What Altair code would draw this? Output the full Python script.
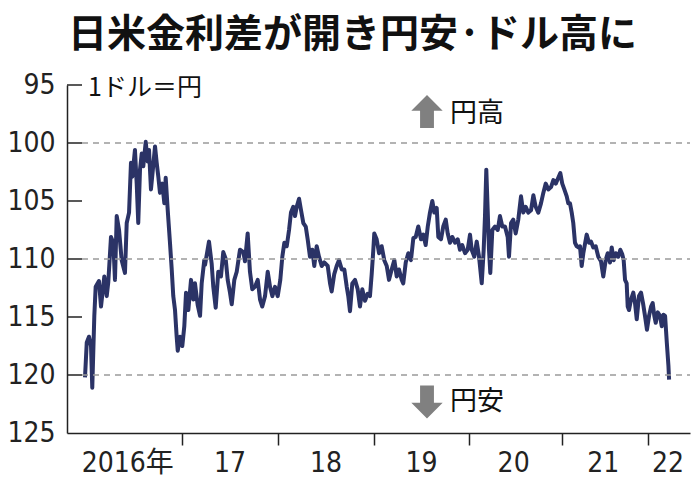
import altair as alt
import pandas as pd

TITLE = "日米金利差が開き円安·ドル高に"
UNIT = "1ドル＝円"
UP_LABEL = "円高"
DOWN_LABEL = "円安"

# (fraction of year, yen per dollar)
y2016 = [(0.000, 120.2), (0.018, 117.2), (0.041, 116.7), (0.062, 117.5), (0.075, 121.1),
         (0.096, 114.9), (0.110, 112.4), (0.144, 111.9), (0.165, 114.1), (0.199, 111.5),
         (0.224, 113.2), (0.240, 112.0), (0.268, 108.1), (0.292, 108.6), (0.309, 111.8),
         (0.327, 106.3), (0.351, 107.5), (0.378, 110.1), (0.412, 111.2), (0.430, 106.9),
         (0.454, 106.0), (0.474, 101.7), (0.488, 102.9), (0.515, 100.6), (0.533, 103.5),
         (0.549, 106.9), (0.567, 102.3), (0.585, 100.9), (0.601, 102.0), (0.626, 99.9),
         (0.646, 101.6), (0.660, 100.6), (0.680, 104.0), (0.704, 101.9), (0.722, 100.3),
         (0.739, 101.7), (0.756, 102.9), (0.773, 104.3), (0.797, 103.5), (0.818, 105.2),
         (0.832, 103.0), (0.853, 105.8), (0.876, 108.6), (0.894, 110.9), (0.910, 113.2),
         (0.928, 114.4), (0.945, 116.7), (0.956, 117.9), (0.979, 116.7)]
y2017 = [(0.003, 117.5), (0.024, 115.8), (0.042, 112.9), (0.066, 114.4), (0.094, 111.8),
         (0.118, 113.5), (0.135, 112.1), (0.164, 114.0), (0.188, 114.9), (0.205, 112.1),
         (0.232, 110.1), (0.240, 110.5), (0.281, 108.5), (0.309, 110.4), (0.326, 112.4),
         (0.351, 114.2), (0.378, 111.1), (0.406, 111.5), (0.430, 109.4), (0.455, 110.0),
         (0.476, 111.8), (0.500, 112.9), (0.518, 113.9), (0.545, 111.8), (0.570, 111.1),
         (0.604, 109.2), (0.639, 109.4), (0.656, 110.2), (0.684, 107.8), (0.708, 111.1),
         (0.732, 112.6), (0.760, 112.4), (0.789, 111.8), (0.813, 113.5), (0.836, 114.1),
         (0.865, 113.2), (0.893, 111.1), (0.917, 112.4), (0.941, 113.2), (0.969, 112.4),
         (0.997, 113.2)]
y2018 = [(0.024, 111.8), (0.045, 109.8), (0.066, 108.6), (0.091, 108.9), (0.115, 107.5),
         (0.135, 106.0), (0.159, 105.5), (0.177, 106.3), (0.195, 105.5), (0.219, 104.8),
         (0.240, 105.8), (0.264, 106.9), (0.289, 107.2), (0.309, 108.3), (0.333, 109.8),
         (0.357, 109.2), (0.378, 110.6), (0.403, 108.9), (0.427, 109.8), (0.455, 110.6),
         (0.482, 110.3), (0.518, 110.6), (0.542, 112.1), (0.559, 112.8), (0.586, 111.3),
         (0.611, 110.6), (0.635, 110.1), (0.664, 110.9), (0.691, 110.9), (0.716, 112.4),
         (0.732, 113.2), (0.750, 114.5), (0.774, 112.1), (0.802, 111.8), (0.830, 112.6),
         (0.854, 114.1), (0.878, 112.6), (0.906, 113.6), (0.934, 113.0), (0.958, 113.2),
         (0.976, 111.3), (0.993, 109.2)]
y2019 = [(0.003, 107.8), (0.028, 108.3), (0.053, 109.5), (0.081, 108.9), (0.108, 110.1),
         (0.134, 110.6), (0.158, 111.8), (0.186, 110.9), (0.214, 110.1), (0.239, 111.5),
         (0.263, 110.9), (0.292, 111.8), (0.308, 112.1), (0.334, 110.3), (0.361, 109.5),
         (0.389, 110.1), (0.414, 108.2), (0.439, 108.1), (0.466, 107.2), (0.495, 108.3),
         (0.519, 107.9), (0.544, 108.8), (0.566, 107.2), (0.589, 106.0), (0.614, 105.0),
         (0.635, 106.0), (0.660, 105.6), (0.677, 108.1), (0.705, 108.3), (0.729, 107.2),
         (0.755, 106.6), (0.776, 107.8), (0.800, 108.6), (0.824, 108.1), (0.853, 108.6),
         (0.881, 108.3), (0.905, 109.2), (0.929, 108.8), (0.958, 109.5), (0.986, 109.2)]
y2020 = [(0.011, 107.9), (0.029, 109.2), (0.057, 109.8), (0.083, 108.5), (0.108, 109.8),
         (0.137, 112.1), (0.158, 109.2), (0.172, 106.3), (0.186, 102.3), (0.201, 105.8),
         (0.215, 109.2), (0.229, 111.2), (0.251, 107.5), (0.280, 107.2), (0.309, 107.5),
         (0.333, 106.3), (0.358, 107.2), (0.387, 107.2), (0.416, 108.1), (0.430, 109.8),
         (0.452, 106.9), (0.476, 106.6), (0.502, 107.8), (0.530, 106.6), (0.559, 104.6),
         (0.584, 106.0), (0.610, 105.5), (0.638, 106.0), (0.667, 105.8), (0.692, 104.5),
         (0.717, 105.5), (0.745, 106.0), (0.774, 105.2), (0.799, 104.3), (0.825, 103.5),
         (0.853, 104.0), (0.882, 103.8), (0.907, 103.2), (0.933, 103.5), (0.960, 103.0),
         (0.982, 102.6)]
y2021 = [(0.003, 103.5), (0.027, 104.0), (0.055, 104.6), (0.073, 105.2), (0.093, 105.2),
         (0.113, 106.0), (0.131, 106.9), (0.151, 108.6), (0.171, 108.9), (0.190, 109.0),
         (0.209, 108.9), (0.229, 110.6), (0.248, 109.5), (0.287, 107.9), (0.314, 108.6),
         (0.337, 108.5), (0.364, 109.0), (0.392, 108.9), (0.422, 109.8), (0.453, 110.2),
         (0.480, 111.5), (0.508, 110.1), (0.531, 109.5), (0.558, 110.3), (0.578, 109.0),
         (0.601, 110.1), (0.624, 109.5), (0.655, 109.8), (0.678, 109.2), (0.701, 109.6),
         (0.717, 110.1), (0.733, 111.8), (0.752, 112.1), (0.764, 114.1), (0.779, 114.4),
         (0.802, 113.5), (0.829, 112.9), (0.849, 113.8), (0.869, 115.2), (0.895, 113.2),
         (0.919, 112.9), (0.942, 113.8), (0.965, 114.9), (0.988, 116.1)]
y2022 = [(0.011, 114.9), (0.032, 114.1), (0.049, 113.8), (0.066, 114.9), (0.081, 115.5),
         (0.102, 114.6), (0.126, 114.9), (0.144, 115.8), (0.161, 114.8), (0.179, 114.9),
         (0.197, 117.2), (0.214, 119.2), (0.221, 120.4)]

SERIES = {2016: y2016, 2017: y2017, 2018: y2018, 2019: y2019,
          2020: y2020, 2021: y2021, 2022: y2022}

Y_TICKS = [95, 100, 105, 110, 115, 120, 125]
GRID_LINES = [100, 110, 120]
YEAR_BOUNDS = [2017, 2018, 2019, 2020, 2021, 2022]
X_LABELS = ["2016年", "17", "18", "19", "20", "21", "22"]
X_LABEL_POS = [2016.44, 2017.5, 2018.5, 2019.5, 2020.48, 2021.48, 2022.21]

rows = [{"t": yr + f, "yen": v} for yr, pts in SERIES.items() for f, v in pts]
df = pd.DataFrame(rows)

W, H = 623, 348
JP_FONT = "Noto Sans CJK JP"
NUM_FONT = "Liberation Sans Narrow, DejaVu Sans Condensed, Noto Sans CJK JP, sans-serif"
INK = "#222222"

x_scale = alt.Scale(domain=[2015.814, 2016, 2017, 2018, 2019, 2020, 2021, 2022, 2022.44],
                    range=[0, 18, 115, 211, 307, 402, 495, 581, 623], nice=False, zero=False)
y_scale = alt.Scale(domain=[95, 125], reverse=True, nice=False, zero=False)

X_AXIS = alt.Axis(values=YEAR_BOUNDS, labels=False, tickSize=12, tickWidth=1.5,
                  tickColor=INK, domainColor=INK, domainWidth=1.5, grid=False, title=None)
Y_AXIS = alt.Axis(values=Y_TICKS, ticks=False, labelPadding=12, labelFontSize=28,
                  labelFont=NUM_FONT, labelColor=INK, domainColor=INK,
                  domainWidth=1.5, grid=False, title=None)

line = alt.Chart(df).mark_line(color="#2b3366", strokeWidth=4, strokeJoin="round").encode(
    x=alt.X("t:Q", scale=x_scale, axis=X_AXIS),
    y=alt.Y("yen:Q", scale=y_scale, axis=Y_AXIS),
)

grid = alt.Chart(pd.DataFrame({"yen": GRID_LINES})).mark_rule(
    color="#9a9a9a", strokeDash=[6, 5], strokeWidth=1.3).encode(
    y=alt.Y("yen:Q", scale=y_scale, axis=Y_AXIS), x=alt.value(15), x2=alt.value(W))

yticks = alt.Chart(pd.DataFrame({"yen": Y_TICKS[:-1]})).mark_rule(
    color=INK, strokeWidth=1.5).encode(
    y=alt.Y("yen:Q", scale=y_scale, axis=Y_AXIS), x=alt.value(0), x2=alt.value(15))

xlabels = alt.Chart(pd.DataFrame({"t": X_LABEL_POS, "lab": X_LABELS})).mark_text(
    fontSize=28, font=NUM_FONT, color=INK, baseline="middle").encode(
    x=alt.X("t:Q", scale=x_scale, axis=X_AXIS), y=alt.value(H + 31), text="lab:N")


def label(text, x, y, size, weight="normal", align="left"):
    return alt.Chart(pd.DataFrame({"s": [text]})).mark_text(
        fontSize=size, font=JP_FONT, fontWeight=weight, color="#111111",
        align=align, baseline="middle").encode(
        x=alt.value(x), y=alt.value(y), text="s:N")


UP_PATH = "M0,-1 L0.95,-0.05 L0.42,-0.05 L0.42,1 L-0.42,1 L-0.42,-0.05 L-0.95,-0.05 Z"
DOWN_PATH = "M0,1 L0.95,0.05 L0.42,0.05 L0.42,-1 L-0.42,-1 L-0.42,0.05 L-0.95,0.05 Z"


def arrow(path, y):
    return alt.Chart(pd.DataFrame({"a": [0]})).mark_point(
        shape=path, filled=True, color="#808080", opacity=1, size=1089, strokeWidth=0).encode(
        x=alt.value(360), y=alt.value(y))


chart = alt.layer(
    line, grid, yticks, xlabels,
    label(TITLE, 1, -50, 39, "bold"),
    label(UNIT, 21, 3, 25),
    arrow(UP_PATH, 26.5), label(UP_LABEL, 383, 28.5, 27),
    arrow(DOWN_PATH, 317), label(DOWN_LABEL, 383, 316.5, 27),
).properties(
    width=W, height=H,
    autosize=alt.AutoSizeParams(type="none"),
    padding={"left": 67, "top": 85, "right": 6, "bottom": 57},
    background="white",
).configure_view(stroke=None)

chart.save("out.html", embed_options={"renderer": "svg", "actions": False})
